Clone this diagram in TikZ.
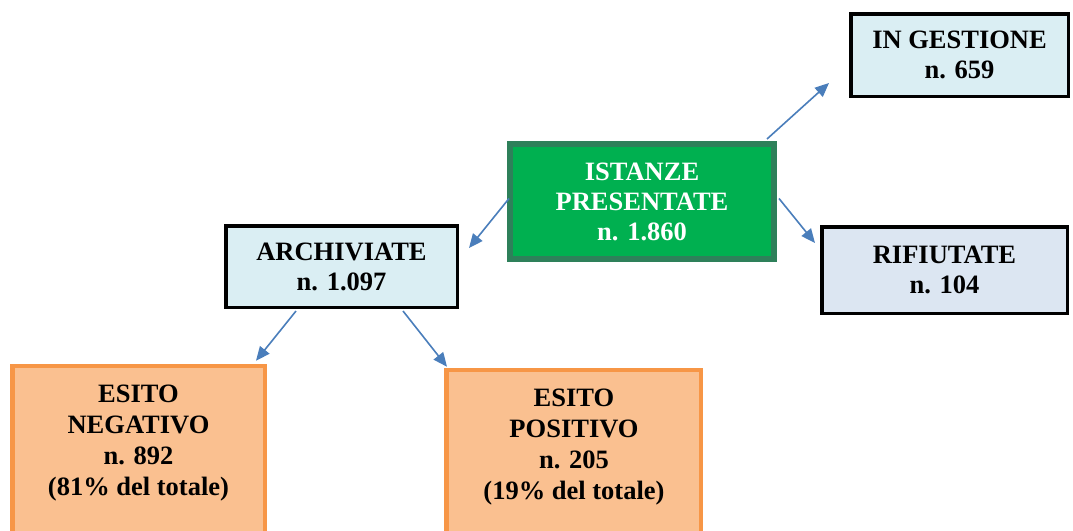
\documentclass[tikz,border=0pt]{standalone}
\usepackage{fontspec}
\setmainfont{Liberation Serif}
\usetikzlibrary{arrows.meta}
\definecolor{gfill}{RGB}{0,176,80}
\definecolor{gline}{RGB}{46,128,90}
\definecolor{lblue}{RGB}{218,238,243}
\definecolor{lgrey}{RGB}{220,230,242}
\definecolor{ofill}{RGB}{250,192,144}
\definecolor{oline}{RGB}{247,150,70}
\definecolor{arrblue}{RGB}{74,126,187}
\begin{document}
\begin{tikzpicture}[x=1pt,y=-1pt,
  txt/.style={font=\fontsize{26.5}{30}\selectfont\bfseries, align=center, inner sep=0pt},
  otxt/.style={font=\fontsize{26.5}{31}\selectfont\bfseries, align=center, inner sep=0pt},
  greenbox/.style={draw=gline, fill=gfill, line width=6pt, text=white},
  bluebox/.style={draw=black, fill=lblue, line width=3.5pt},
  greybox/.style={draw=black, fill=lgrey, line width=3.5pt},
  orangebox/.style={draw=oline, fill=ofill, line width=4.5pt},
  arr/.style={draw=arrblue, line width=1.6pt, -{Triangle[length=14pt,width=12pt]}, fill=arrblue}
]
\useasboundingbox (0,0) rectangle (1073,530);
\fill[white] (0,0) rectangle (1073,530);

\node[greenbox, txt, minimum width=264pt, minimum height=115pt] (ist) at (642,201.5) {ISTANZE\\PRESENTATE\\n. 1.860};
\node[bluebox, txt, minimum width=217.5pt, minimum height=82.5pt] (gest) at (959.5,55) {IN GESTIONE\\n. 659};
\node[greybox, txt, minimum width=245.5pt, minimum height=86.5pt] (rif) at (944.5,270) {RIFIUTATE\\n. 104};
\node[bluebox, txt, minimum width=231.5pt, minimum height=81.5pt] (arch) at (341.5,266.5) {ARCHIVIATE\\n. 1.097};
\node[orangebox, minimum width=252.5pt, minimum height=234pt] (neg) at (138.5,483) {};
\node[otxt] (negtxt) at (138.5,443) {ESITO\\NEGATIVO\\n. 892\\(81\% del totale)};
\node[orangebox, minimum width=254.5pt, minimum height=230pt] (pos) at (573.5,485) {};
\node[otxt] (postxt) at (574,447) {ESITO\\POSITIVO\\n. 205\\(19\% del totale)};

\draw[arr] ([shift={(-10,-2)}]ist.north east) -- ([shift={(-20,-15)}]gest.south west);
\draw[arr] ([shift={(2,-3)}]ist.east) -- ([shift={(-5,-27)}]rif.west);
\draw[arr] ([shift={(2,-3)}]ist.west) -- ([shift={(10,-18.5)}]arch.east);
\draw[arr] ([shift={(-45.5,2)}]arch.south) -- ([shift={(-11,-3)}]neg.north east);
\draw[arr] ([shift={(61.5,2)}]arch.south) -- ([shift={(3,-1)}]pos.north west);
\end{tikzpicture}
\end{document}
